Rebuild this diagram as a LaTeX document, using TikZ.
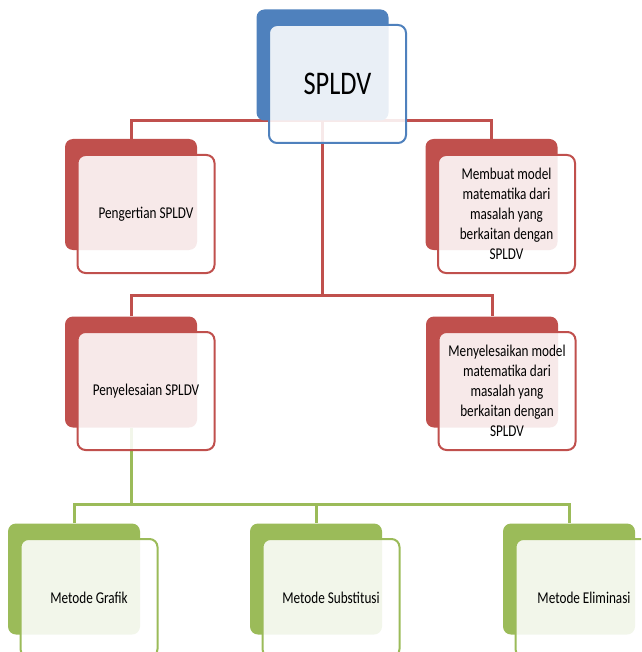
\documentclass[tikz,border=0pt]{standalone}
\usepackage{fontspec}
\setmainfont{Carlito}[FakeStretch=0.8]
\usepackage{tikz}
\usetikzlibrary{backgrounds}
\definecolor{splblue}{RGB}{79,129,189}
\definecolor{splred}{RGB}{192,80,77}
\definecolor{splgreen}{RGB}{155,187,89}
\begin{document}
\begin{tikzpicture}[x=1pt,y=-1pt, every node/.style={font=\fontsize{16.5}{20}\selectfont}, backbox/.style={fill=#1,rounded corners=8pt,minimum width=132pt,minimum height=111pt,inner sep=0pt}, frontbox/.style={draw=#1,line width=2pt,rounded corners=8pt,minimum width=137pt,minimum height=118pt,inner sep=2pt,fill=white,fill opacity=0.88,text opacity=1,align=center}, link/.style={line width=3pt,draw=#1}]
\useasboundingbox (0,0) rectangle (641,652);
\clip (0,0) rectangle (641,652);
\node[backbox=splblue] (spldvB) at (322.5,65) {};
\node[frontbox=splblue,font=\fontsize{33}{40}\selectfont] (spldv) at (337.5,84) {SPLDV};
\node[backbox=splred] (pengB) at (131,194.5) {};
\node[frontbox=splred] (peng) at (146,214) {Pengertian SPLDV};
\node[backbox=splred] (membB) at (491.5,194.5) {};
\node[frontbox=splred] (memb) at (506.5,214) {Membuat model\\matematika dari\\masalah yang\\berkaitan dengan\\SPLDV};
\node[backbox=splred] (penyB) at (131,372) {};
\node[frontbox=splred] (peny) at (146,391) {Penyelesaian SPLDV};
\node[backbox=splred] (menyB) at (492,372) {};
\node[frontbox=splred] (meny) at (507,391) {Menyelesaikan model\\matematika dari\\masalah yang\\berkaitan dengan\\SPLDV};
\node[backbox=splgreen] (grafikB) at (74,579) {};
\node[frontbox=splgreen] (grafik) at (89,598) {Metode Grafik};
\node[backbox=splgreen] (substB) at (316,579) {};
\node[frontbox=splgreen] (subst) at (331,598) {Metode Substitusi};
\node[backbox=splgreen] (elimB) at (569,579) {};
\node[frontbox=splgreen] (elim) at (584,598) {Metode Eliminasi};
\coordinate (hubR) at (322.5,295);
\coordinate (hubG) at (131,504);
\begin{scope}[on background layer]
\draw[link=splred] (pengB.north) |- (spldvB.south) -| (membB.north);
\draw[link=splred] (spldvB.south) -- (hubR);
\draw[link=splred] (penyB.north) |- (hubR) -| (menyB.north);
\draw[link=splgreen] (penyB.south) -- (hubG);
\draw[link=splgreen] (grafikB.north) |- (hubG) -| (elimB.north);
\draw[link=splgreen] (hubG -| substB.north) -- (substB.north);
\end{scope}
\end{tikzpicture}
\end{document}
